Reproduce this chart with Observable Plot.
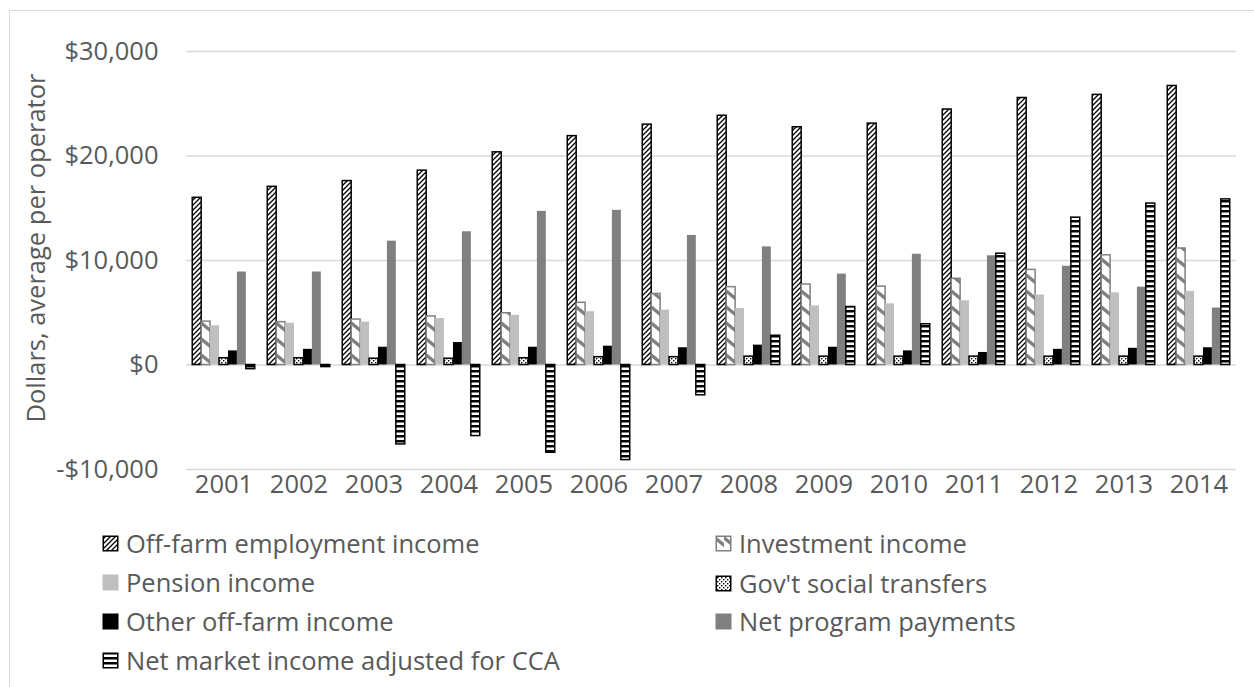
<!DOCTYPE html>
<html>
<head>
<meta charset="utf-8">
<script src="https://cdn.jsdelivr.net/npm/d3@7"></script>
<script src="https://cdn.jsdelivr.net/npm/@observablehq/plot@0.6"></script>
<style>
  html, body { margin: 0; padding: 0; background: #fff; overflow: hidden; width: 1254px; height: 687px; }
  #frame { position: absolute; left: 9px; top: 10px; width: 1300px; height: 800px; border: 1.5px solid #d9d9d9; box-sizing: border-box; }
  #chart { position: absolute; left: 0; top: 0; }
  .leg { position: absolute; font-family: "Open Sans", sans-serif; font-size: 25.5px; color: #595959; white-space: nowrap; display: flex; align-items: center; }
  .leg svg { margin-right: 7px; }
</style>
</head>
<body>
<div id="frame"></div>
<svg width="0" height="0" style="position:absolute">
  <defs>
    <pattern id="pOff" patternUnits="userSpaceOnUse" width="5" height="5">
      <rect width="5" height="5" fill="#fff"/>
      <path d="M0,5 L5,0 M-1,1 L1,-1 M4,6 L6,4" stroke="#000" stroke-width="1.3"/>
    </pattern>
    <pattern id="pInv" patternUnits="userSpaceOnUse" width="9" height="16">
      <rect width="9" height="16" fill="#fff"/>
      <path d="M-1,2 L10,11" stroke="#808080" stroke-width="3.5"/>
    </pattern>
    <pattern id="pGov" patternUnits="userSpaceOnUse" width="4" height="4">
      <rect width="4" height="4" fill="#fff"/>
      <rect x="0" y="0" width="1.4" height="1.4" fill="#000"/>
      <rect x="2" y="2" width="1.4" height="1.4" fill="#000"/>
    </pattern>
    <pattern id="pNet" patternUnits="userSpaceOnUse" width="10" height="5">
      <rect width="10" height="5" fill="#fff"/>
      <rect width="10" height="2.5" fill="#000"/>
    </pattern>
  </defs>
</svg>
<div id="chart"></div>
<div id="legend"></div>
<script>
// ---- data ----
const years = ["2001","2002","2003","2004","2005","2006","2007","2008","2009","2010","2011","2012","2013","2014"];
const seriesNames = [
  "Off-farm employment income",
  "Investment income",
  "Pension income",
  "Gov't social transfers",
  "Other off-farm income",
  "Net program payments",
  "Net market income adjusted for CCA"
];
const offFarm    = [16000, 17050, 17600, 18600, 20350, 21900, 23000, 23850, 22750, 23100, 24450, 25550, 25850, 26700];
const investment = [4150, 4100, 4350, 4650, 4950, 5950, 6800, 7450, 7700, 7500, 8250, 9100, 10500, 11150];
const pension    = [3750, 4000, 4100, 4450, 4750, 5100, 5250, 5400, 5650, 5850, 6150, 6700, 6900, 7050];
const govTransfers = [650, 650, 600, 600, 650, 750, 750, 800, 800, 800, 800, 800, 800, 800];
const otherOffFarm = [1350, 1500, 1700, 2150, 1700, 1800, 1650, 1900, 1700, 1350, 1200, 1500, 1600, 1650];
const netProgram = [8900, 8900, 11850, 12750, 14700, 14800, 12400, 11300, 8700, 10600, 10450, 9450, 7450, 5450];
const netMarket  = [-400, -200, -7600, -6800, -8400, -9100, -2900, 2800, 5550, 3900, 10650, 14100, 15450, 15850];
const yTicks = [-10000, 0, 10000, 20000, 30000];
const yLabel = "Dollars, average per operator";

// ---- styles ----
const seriesValues = [offFarm, investment, pension, govTransfers, otherOffFarm, netProgram, netMarket];
const fills   = ["url(#pOff)", "url(#pInv)", "#bfbfbf", "url(#pGov)", "#000000", "#808080", "url(#pNet)"];
const strokes = ["#000000", "#808080", "none", "#000000", "none", "none", "#000000"];
const fillMap = Object.fromEntries(seriesNames.map((s, j) => [s, fills[j]]));
const strokeMap = Object.fromEntries(seriesNames.map((s, j) => [s, strokes[j]]));

const data = years.flatMap((yr, i) => seriesNames.map((s, j) => ({year: yr, series: s, value: seriesValues[j][i]})));

const fmt = d => (d < 0 ? "-" : "") + "$" + d3.format(",")(Math.abs(d));

const chart = Plot.plot({
  width: 1254,
  height: 510,
  marginLeft: 183,
  marginRight: 16,
  marginTop: 51,
  marginBottom: 41,
  style: {fontFamily: "'Open Sans', sans-serif", fontSize: "25.5px", color: "#595959", background: "transparent", overflow: "visible"},
  fx: {domain: years, padding: 0, tickSize: 0, tickPadding: 5, label: null},
  x: {domain: seriesNames, paddingInner: 0, paddingOuter: 0.7, round: false, axis: null},
  y: {domain: [-10000, 30000], ticks: yTicks, tickFormat: fmt, tickSize: 0, tickPadding: 28, label: null},
  color: {type: "identity"},
  marks: [
    Plot.ruleY(yTicks, {stroke: "#d9d9d9", strokeWidth: 1.4}),
    Plot.barY(data, {fx: "year", x: "series", y1: 0, y2: "value",
      fill: d => fillMap[d.series], stroke: d => strokeMap[d.series], strokeWidth: 1.5})
  ]
});
// y-axis title
d3.select(chart).append("text")
  .attr("transform", "translate(35,248) rotate(-90)")
  .attr("text-anchor", "middle")
  .attr("dominant-baseline", "central")
  .attr("fill", "#595959")
  .text(yLabel);
document.getElementById("chart").appendChild(chart);

// ---- legend ----
const legendPos = [
  [102, 543], [715, 543],
  [102, 582], [715, 583],
  [102, 621], [715, 621],
  [102, 660]
];
const legend = document.getElementById("legend");
seriesNames.forEach((s, j) => {
  const [x, y] = legendPos[j];
  const div = document.createElement("div");
  div.className = "leg";
  div.style.left = x + "px";
  div.style.top = (y - 18) + "px";
  div.style.height = "36px";
  const st = strokes[j];
  const sw = st === "none" ? 0 : 1.5;
  div.innerHTML = `<svg width="17" height="17"><rect x="${sw/2+0.5}" y="${sw/2+0.5}" width="${16 - sw}" height="${16 - sw}" fill="${fills[j]}" stroke="${st}" stroke-width="${sw}"/></svg><span>${s}</span>`;
  legend.appendChild(div);
});
</script>
</body>
</html>
